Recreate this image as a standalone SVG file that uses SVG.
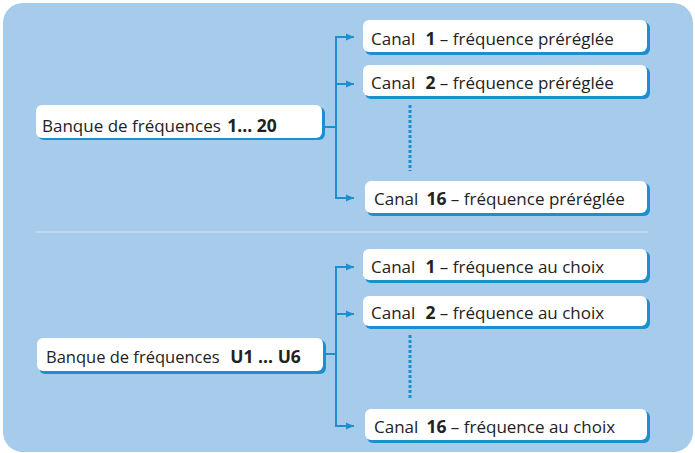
<svg xmlns="http://www.w3.org/2000/svg" width="695" height="453" viewBox="0 0 695 453">
<style>
.sh{fill:#1b8fd2}
.bx{fill:#ffffff}
.t{font-family:"Open Sans","Noto Sans","Liberation Sans",sans-serif;font-size:17px;fill:#222222}
.b{font-weight:bold;font-size:17.5px}
.ln{stroke:#1b8fd2;stroke-width:2;fill:none}
.dot{stroke:#1b8fd2;stroke-width:3;stroke-dasharray:3 2;fill:none}
</style>
<defs>
<marker id="ah" viewBox="0 0 8 8" refX="8" refY="4" markerWidth="8" markerHeight="8" markerUnits="userSpaceOnUse" orient="auto">
<path d="M0,0.5 L8,4 L0,7.5 Z" fill="#1b8fd2"/>
</marker>
</defs>
<rect x="3" y="3" width="690" height="449" rx="20" fill="#a6cbeb"/>
<line x1="36" y1="232" x2="648" y2="232" stroke="#c2dcf2" stroke-width="1.5"/>

<g id="connectors">
<path class="ln" d="M325,127 H336 M353,37 H336 V198 H353"/>
<line class="ln" x1="336" y1="37" x2="354" y2="37" marker-end="url(#ah)"/>
<line class="ln" x1="336" y1="84" x2="354" y2="84" marker-end="url(#ah)"/>
<line class="ln" x1="336" y1="198" x2="354" y2="198" marker-end="url(#ah)"/>
<line class="dot" x1="410" y1="105" x2="410" y2="171"/>
<path class="ln" d="M326,354 H336 M353,267 H336 V426 H353"/>
<line class="ln" x1="336" y1="267" x2="354" y2="267" marker-end="url(#ah)"/>
<line class="ln" x1="336" y1="314" x2="354" y2="314" marker-end="url(#ah)"/>
<line class="ln" x1="336" y1="426" x2="354" y2="426" marker-end="url(#ah)"/>
<line class="dot" x1="410" y1="335" x2="410" y2="399"/>
</g>

<g id="bank1">
<rect class="sh" x="38" y="107" width="287" height="33" rx="6"/>
<rect class="bx" x="36" y="105" width="286" height="33" rx="6"/>
<text class="t" x="42" y="131.5">Banque de fréquences <tspan class="b" dx="2">1... 20</tspan></text>
</g>
<g id="ch1a">
<rect class="sh" x="365" y="22" width="285" height="33" rx="6"/>
<rect class="bx" x="363" y="20" width="284" height="32" rx="6"/>
<text class="t" x="371" y="44.5">Canal <tspan class="b" dx="5.7">1</tspan> – fréquence préréglée</text>
</g>
<g id="ch2a">
<rect class="sh" x="365" y="67" width="285" height="32" rx="6"/>
<rect class="bx" x="363" y="65" width="284" height="31" rx="6"/>
<text class="t" x="371" y="89">Canal <tspan class="b" dx="5.7">2</tspan> – fréquence préréglée</text>
</g>
<g id="ch16a">
<rect class="sh" x="367" y="183" width="283" height="33" rx="6"/>
<rect class="bx" x="365" y="181" width="282" height="32" rx="6"/>
<text class="t" x="374" y="205">Canal <tspan class="b" dx="3.7">16</tspan> – fréquence préréglée</text>
</g>

<g id="bank2">
<rect class="sh" x="39" y="340" width="287" height="34" rx="6"/>
<rect class="bx" x="37" y="338" width="286" height="33" rx="6"/>
<text class="t" x="46" y="362.5" style="font-size:16.5px">Banque de fréquences <tspan class="b" dx="6.5">U1 ... U6</tspan></text>
</g>
<g id="ch1b">
<rect class="sh" x="365" y="251" width="285" height="32" rx="6"/>
<rect class="bx" x="363" y="249" width="284" height="31" rx="6"/>
<text class="t" x="371" y="273">Canal <tspan class="b" dx="5.7">1</tspan> – fréquence au choix</text>
</g>
<g id="ch2b">
<rect class="sh" x="365" y="298" width="285" height="31" rx="6"/>
<rect class="bx" x="363" y="296" width="284" height="30" rx="6"/>
<text class="t" x="371" y="319">Canal <tspan class="b" dx="5.7">2</tspan> – fréquence au choix</text>
</g>
<g id="ch16b">
<rect class="sh" x="367" y="411" width="283" height="32" rx="6"/>
<rect class="bx" x="365" y="409" width="282" height="31" rx="6"/>
<text class="t" x="374" y="433">Canal <tspan class="b" dx="3.7">16</tspan> – fréquence au choix</text>
</g>
</svg>
